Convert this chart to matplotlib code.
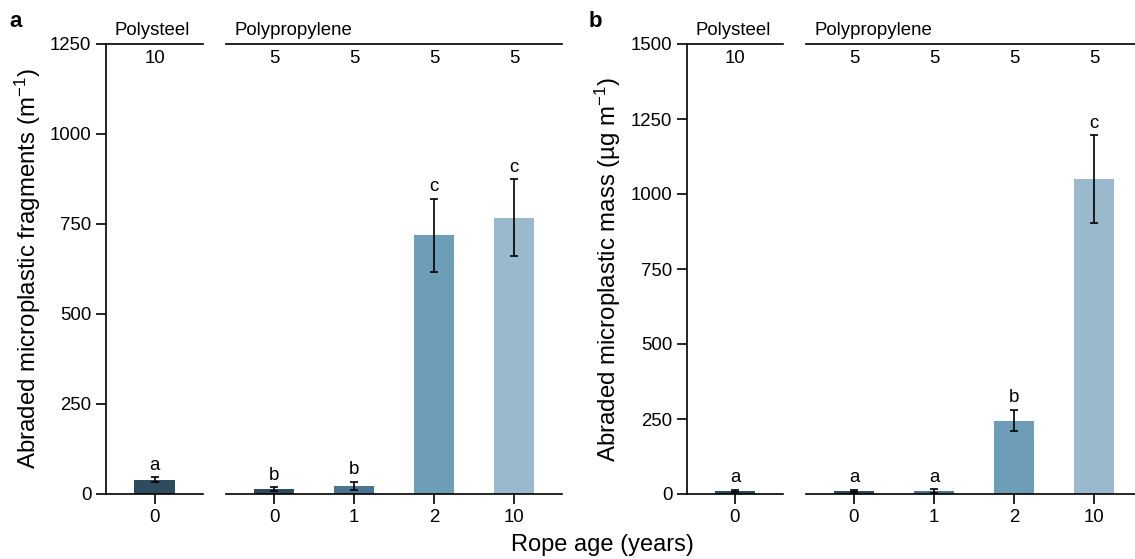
import numpy as np
import matplotlib
matplotlib.use("Agg")
import matplotlib.pyplot as plt
from matplotlib import transforms

plt.rcParams["font.family"] = ["Liberation Sans", "DejaVu Sans"]
plt.rcParams["mathtext.fontset"] = "custom"
plt.rcParams["mathtext.rm"] = "Liberation Sans"
plt.rcParams["mathtext.it"] = "Liberation Sans:italic"

# Données
ages_ps = ["0"]
ages_pp = ["0", "1", "2", "10"]
n_ps = [10]
n_pp = [5, 5, 5, 5]

frag_ps = [39]
frag_ps_err = [7]
frag_pp = [14, 22, 719, 767]
frag_pp_err = [5, 11, 101, 107]
frag_lettres_ps = ["a"]
frag_lettres_pp = ["b", "b", "c", "c"]

masse_ps = [10]
masse_ps_err = [3]
masse_pp = [10, 10, 245, 1050]
masse_pp_err = [4, 6, 35, 146]
masse_lettres_ps = ["a"]
masse_lettres_pp = ["a", "a", "b", "c"]

couleur_ps = ["#2f4b5e"]
couleurs_pp = ["#2f4b5e", "#4a7490", "#6e9db7", "#9bb9cd"]

W, H = 1135, 559
TAILLE = 13.4
LW = 1.2


def px(x0, y0, w, h):
    # rectangle en pixels (origine en haut) -> fraction de figure
    return [x0 / W, (H - y0 - h) / H, w / W, h / H]


def style_axe(ax, ymax, yticks, gauche):
    ax.set_ylim(0, ymax)
    ax.spines["right"].set_visible(False)
    for s in ["top", "bottom", "left"]:
        ax.spines[s].set_linewidth(LW)
    ax.tick_params(axis="both", direction="out", length=7, width=LW,
                   labelsize=TAILLE, pad=3.5)
    if gauche:
        ax.set_yticks(yticks)
    else:
        ax.spines["left"].set_visible(False)
        ax.set_yticks([])


def groupe(ax, ages, vals, errs, lettres, n, couleurs, titre, ymax, yticks, gauche):
    x = np.arange(len(ages))
    ax.bar(x, vals, width=0.5, color=couleurs, zorder=2)
    ax.errorbar(x, vals, yerr=errs, fmt="none", ecolor="black",
                elinewidth=LW, capsize=3, capthick=LW, zorder=3)
    ax.set_xticks(x)
    ax.set_xticklabels(ages)
    style_axe(ax, ymax, yticks, gauche)
    ax.set_xlim(-0.6, len(ages) - 0.4)

    # lettres de significativité
    for xi, v, e, l in zip(x, vals, errs, lettres):
        ax.annotate(l, xy=(xi, v + e), xytext=(0, 5.5), textcoords="offset points",
                    ha="center", va="baseline", fontsize=TAILLE)

    # effectifs sous la ligne du haut
    trans = transforms.blended_transform_factory(ax.transData, ax.transAxes)
    for xi, ni in zip(x, n):
        ax.annotate(str(ni), xy=(xi, 1), xycoords=trans, xytext=(0, -13.5),
                    textcoords="offset points", ha="center", va="baseline",
                    fontsize=TAILLE)
    ax.annotate(titre, xy=(0, 1), xycoords="axes fraction", xytext=(6, 6.5),
                textcoords="offset points", ha="left", va="baseline",
                fontsize=TAILLE)


fig = plt.figure(figsize=(W / 100, H / 100), dpi=100)

# Panneau a
ax_a1 = fig.add_axes(px(106, 44, 97, 450))
ax_a2 = fig.add_axes(px(226, 44, 336, 450))
groupe(ax_a1, ages_ps, frag_ps, frag_ps_err, frag_lettres_ps, n_ps, couleur_ps,
       "Polysteel", 1250, [0, 250, 500, 750, 1000, 1250], True)
groupe(ax_a2, ages_pp, frag_pp, frag_pp_err, frag_lettres_pp, n_pp, couleurs_pp,
       "Polypropylene", 1250, [], False)
ax_a1.set_ylabel("Abraded microplastic fragments (m$^{-1}$)", fontsize=17.3)
ax_a1.yaxis.set_label_coords(-63 / 97, 0.5)

# Panneau b
ax_b1 = fig.add_axes(px(687, 44, 96, 450))
ax_b2 = fig.add_axes(px(806, 44, 336, 450))
groupe(ax_b1, ages_ps, masse_ps, masse_ps_err, masse_lettres_ps, n_ps, couleur_ps,
       "Polysteel", 1500, [0, 250, 500, 750, 1000, 1250, 1500], True)
groupe(ax_b2, ages_pp, masse_pp, masse_pp_err, masse_lettres_pp, n_pp, couleurs_pp,
       "Polypropylene", 1500, [], False)
ax_b1.set_ylabel("Abraded microplastic mass (µg m$^{-1}$)", fontsize=17.3)
ax_b1.yaxis.set_label_coords(-64 / 96, 0.5)

fig.text(602 / W, 1 - 545 / H, "Rope age (years)", ha="center", va="center", fontsize=17)
fig.text(9 / W, 1 - 27 / H, "a", ha="left", va="baseline", fontsize=16, fontweight="bold")
fig.text(589 / W, 1 - 27 / H, "b", ha="left", va="baseline", fontsize=16, fontweight="bold")

fig.savefig("out.png", dpi=100)
